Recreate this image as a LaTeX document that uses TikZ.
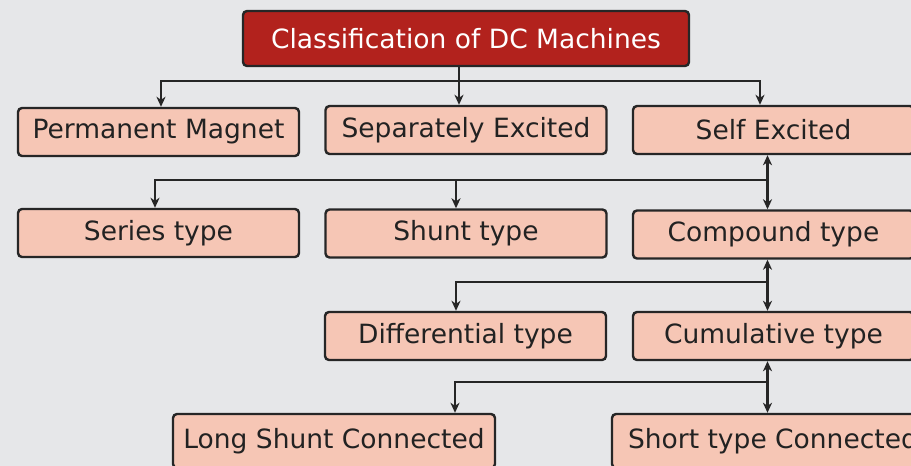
\documentclass[tikz,border=0pt]{standalone}
\usepackage{fontspec}
\setmainfont{DejaVu Sans}
\usetikzlibrary{arrows.meta}
\definecolor{bg}{HTML}{E6E7E9}
\definecolor{titlefill}{HTML}{B2221D}
\definecolor{boxfill}{HTML}{F6C6B5}
\definecolor{edge}{HTML}{262626}
\definecolor{txt}{HTML}{222222}
\begin{document}
\begin{tikzpicture}[x=1pt,y=-1pt,
  box/.style={draw=edge, line width=2.4pt, rounded corners=4pt, fill=boxfill, text=txt,
    minimum width=281pt, minimum height=48pt, inner sep=0pt, font=\fontsize{26.5}{32}\selectfont},
  titlebox/.style={box, fill=titlefill, text=white, minimum width=446pt, minimum height=55pt},
  widebox/.style={box, minimum width=322pt, minimum height=54pt},
  ln/.style={draw=edge, line width=2.2pt},
  tip/.tip={Stealth[length=10pt,width=9pt,inset=3pt]},
  arr/.style={ln, -tip},
  darr/.style={ln, tip-tip}]
\fill[bg] (0,0) rectangle (911,466);
\useasboundingbox (0,0) rectangle (911,466);

\node[titlebox] (title) at (466,38.5) {Classification of DC Machines};
\node[box] (pm) at (158.5,132) {Permanent Magnet};
\node[box] (sep) at (466,130) {Separately Excited};
\node[box] (self) at (773.5,130) {Self Excited};
\node[box] (series) at (158.5,233) {Series type};
\node[box] (shunt) at (466,233.5) {Shunt type};
\node[box] (compound) at (773.5,234.5) {Compound type};
\node[box] (diff) at (465.5,336) {Differential type};
\node[box] (cum) at (773.5,336) {Cumulative type};
\node[widebox] (long) at (334,441) {Long Shunt Connected};
\node[widebox] (short) at (773,441) {Short type Connected};

% level 1
\draw[ln] ([xshift=-7pt]title.south) -- ++(0,14) coordinate (t1);
\draw[arr] (t1) -| ([xshift=2.5pt]pm.north);
\draw[arr] (t1) -| ([xshift=-13.5pt]self.north);
\draw[arr] (t1) -- (t1 |- sep.north);

% self excited
\draw[darr] ([xshift=-6pt]self.south) -- ([xshift=-6pt]compound.north);
\coordinate (j2) at (767.5,180);
\draw[arr] (j2) -| ([xshift=-3.5pt]series.north);
\draw[arr] ([xshift=-10pt]shunt.north |- j2) -- ([xshift=-10pt]shunt.north);

% compound
\draw[darr] ([xshift=-6pt]compound.south) -- ([xshift=-6pt]cum.north);
\coordinate (j3) at (767.5,282);
\draw[arr] (j3) -| ([xshift=-9.5pt]diff.north);

% cumulative
\draw[darr] ([xshift=-6pt]cum.south) -- ([xshift=-5.5pt]short.north);
\coordinate (j4) at (767.5,382);
\draw[arr] (j4) -| ([xshift=121pt]long.north);
\end{tikzpicture}
\end{document}
